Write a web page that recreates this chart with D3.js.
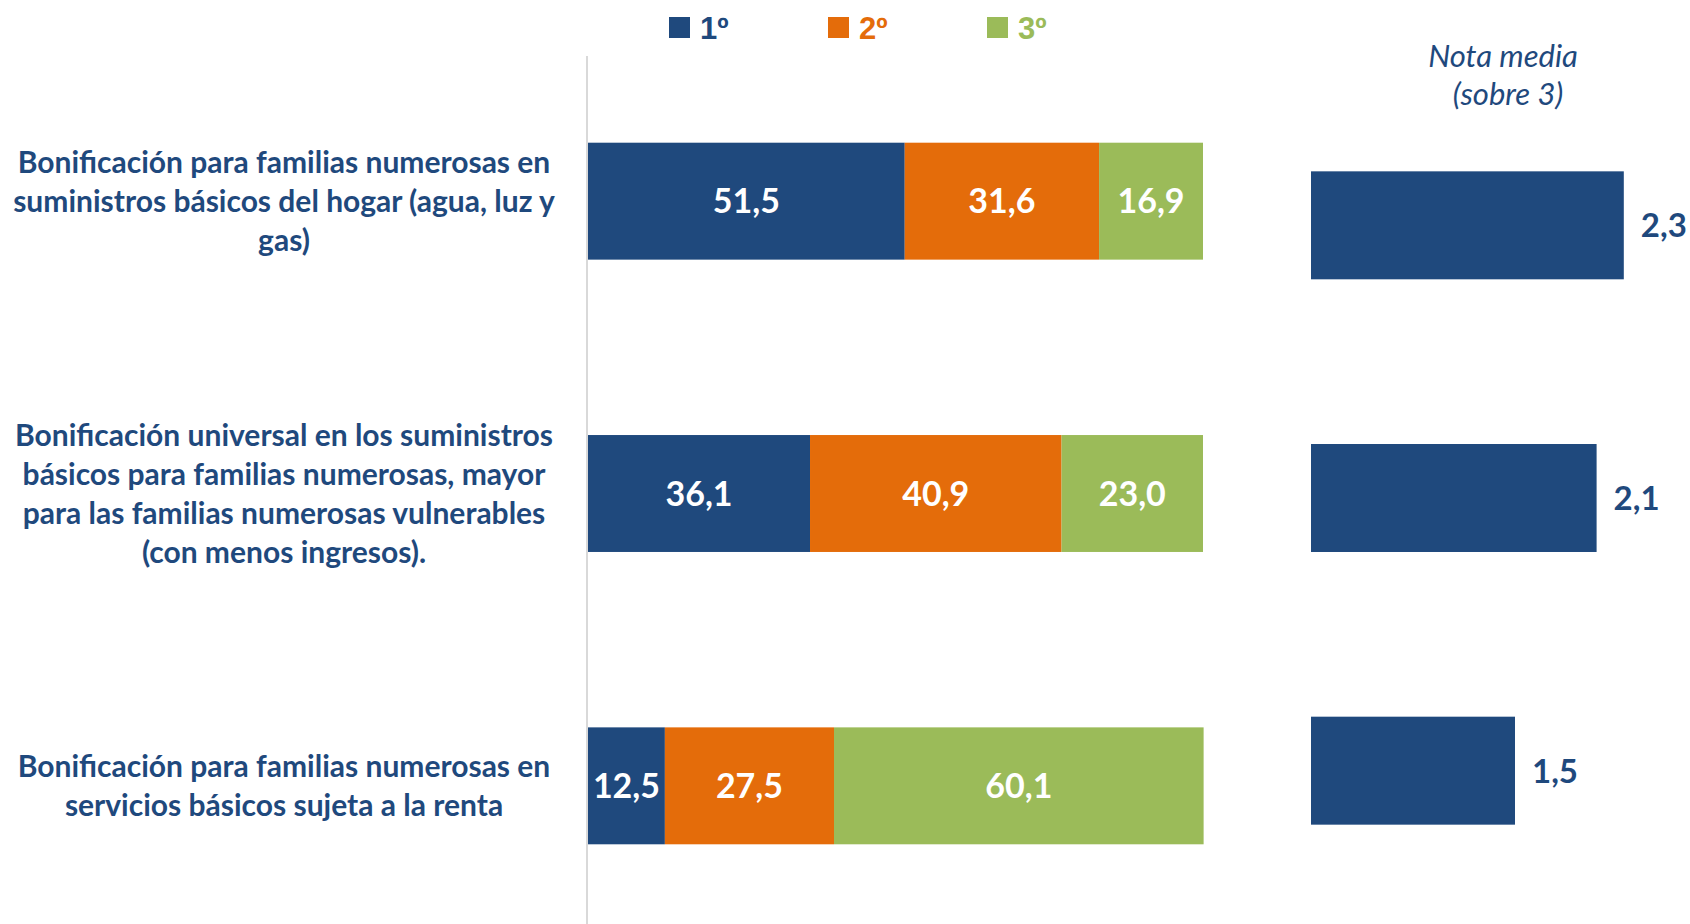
<!DOCTYPE html>
<html>
  <head>
    <meta charset="utf-8">
    <script src="https://cdn.jsdelivr.net/npm/d3@7/dist/d3.min.js"></script>
    <style>
      body { margin: 0; background: white; }
      svg { display: block; font-family: Lato, 'Open Sans', sans-serif; }
    </style>
  </head>
  <body>
    <script>
      // data
      const categories = [
        ['Bonificación para familias numerosas en', 'suministros básicos del hogar (agua, luz y', 'gas)'],
        ['Bonificación universal en los suministros', 'básicos para familias numerosas, mayor', 'para las familias numerosas vulnerables', '(con menos ingresos).'],
        ['Bonificación para familias numerosas en', 'servicios básicos sujeta a la renta']
      ]
      const seriesNames = ['1º', '2º', '3º']
      const first = [51.5, 36.1, 12.5]
      const second = [31.6, 40.9, 27.5]
      const third = [16.9, 23.0, 60.1]
      const notaMedia = [2.3, 2.1, 1.5]

      const colors = ['#1F497D', '#E46C0A', '#9BBB59']
      const textBlue = '#1F497D'
      const fmt = v => d3.format('.1f')(v).replace('.', ',')

      const W = 1690, H = 924
      const svg = d3.select('body').append('svg').attr('width', W).attr('height', H)

      const rows = categories.map((c, i) => ({i, vals: [first[i], second[i], third[i]]}))

      // left stacked chart
      const x = d3.scaleLinear().domain([0, 100]).range([588, 1203])
      const y = d3.scaleBand().domain(d3.range(3)).range([55, 932]).paddingInner(0.6).paddingOuter(0.3)

      svg.append('line')
        .attr('x1', 587).attr('x2', 587)
        .attr('y1', 56).attr('y2', H)
        .attr('stroke', '#d9d9d9').attr('stroke-width', 2)

      const stack = d3.stack().keys([0, 1, 2]).value((d, k) => d.vals[k])
      const layers = stack(rows)

      layers.forEach((layer, k) => {
        const g = svg.append('g')
        g.selectAll('rect').data(layer).join('rect')
          .attr('x', d => x(d[0]))
          .attr('width', d => x(d[1]) - x(d[0]))
          .attr('y', (d, i) => y(i))
          .attr('height', y.bandwidth())
          .attr('fill', colors[k])
        g.selectAll('text').data(layer).join('text')
          .attr('x', d => (x(d[0]) + x(d[1])) / 2)
          .attr('y', (d, i) => y(i) + y.bandwidth() / 2)
          .attr('dy', '0.36em')
          .attr('text-anchor', 'middle')
          .attr('fill', 'white')
          .attr('font-weight', 'bold')
          .attr('font-size', 34)
          .text(d => fmt(d[1] - d[0]))
      })

      // category labels
      const lineH = 39
      categories.forEach((lines, i) => {
        const cy = y(i) + y.bandwidth() / 2
        const t = svg.append('text')
          .attr('text-anchor', 'middle')
          .attr('fill', textBlue)
          .attr('font-weight', 'bold')
          .attr('font-size', 30)
        lines.forEach((l, j) => {
          t.append('tspan')
            .attr('x', 284)
            .attr('y', cy + (j - (lines.length - 1) / 2) * lineH)
            .attr('dy', '0.36em')
            .text(l)
        })
      })

      // legend
      const legX = d3.scaleBand().domain(seriesNames).range([669, 1146])
      const leg = svg.append('g').selectAll('g').data(seriesNames).join('g')
        .attr('transform', d => `translate(${legX(d)},0)`)
      leg.append('rect')
        .attr('x', 0).attr('y', 17).attr('width', 21).attr('height', 21)
        .attr('fill', (d, i) => colors[i])
      leg.append('text')
        .attr('x', 31).attr('y', 28).attr('dy', '0.36em')
        .attr('fill', (d, i) => colors[i])
        .attr('font-family', "'Liberation Sans', Arial, sans-serif")
        .attr('font-weight', 'bold')
        .attr('font-size', 31)
        .text(d => d)

      // right chart: nota media
      const x2 = d3.scaleLinear().domain([0, 3]).range([1311, 1719])
      const y2 = d3.scaleBand().domain(d3.range(3)).range([35, 961]).paddingInner(0.604).paddingOuter(0.5)

      svg.append('g').selectAll('rect').data(notaMedia).join('rect')
        .attr('x', x2(0))
        .attr('y', (d, i) => y2(i))
        .attr('width', d => x2(d) - x2(0))
        .attr('height', y2.bandwidth())
        .attr('fill', colors[0])

      svg.append('g').selectAll('text').data(notaMedia).join('text')
        .attr('x', d => x2(d) + 17)
        .attr('y', (d, i) => y2(i) + y2.bandwidth() / 2)
        .attr('dy', '0.36em')
        .attr('fill', textBlue)
        .attr('font-weight', 'bold')
        .attr('font-size', 33)
        .text(d => fmt(d))

      const title = svg.append('text')
        .attr('text-anchor', 'middle')
        .attr('fill', textBlue)
        .attr('font-style', 'italic')
        .attr('font-size', 31)
      title.append('tspan').attr('x', 1503).attr('y', 67).text('Nota media')
      title.append('tspan').attr('x', 1508).attr('y', 105).text('(sobre 3)')
    </script>
  </body>
</html>
